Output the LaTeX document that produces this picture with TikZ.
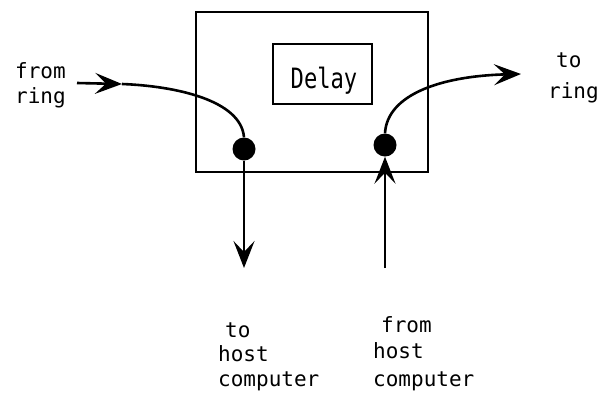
\documentclass[tikz,border=0pt]{standalone}
\usepackage{fontspec}
\setmainfont{DejaVu Sans Mono}
\usetikzlibrary{arrows.meta}
\begin{document}
\begin{tikzpicture}[x=1pt,y=-1pt,
  frame/.style={draw,line width=2.2pt},
  wire/.style={line width=2.6pt},
  arr/.style={wire,-{Stealth[length=27pt,width=21pt,inset=11pt]}},
  tap/.style={circle,fill,inner sep=0pt,minimum size=23pt},
  lbl/.style={font=\fontsize{21}{26}\selectfont,inner sep=0pt,anchor=base west}]
\useasboundingbox (0,0) rectangle (609,408);
% station box and delay element
\draw[frame] (196,12) rectangle (428,172);
\node[draw,line width=2pt,minimum width=99pt,minimum height=60pt,inner sep=0pt] (delay) at (322.5,74) {};
\node[inner sep=0pt,anchor=base,font=\fontsize{28}{30}\selectfont,xscale=0.79]
  (delaytxt) at (324,88) {Delay};
% tap points
\node[tap] (ltap) at (244,149) {};
\node[tap] (rtap) at (385,145) {};
% free ends of the wires
\coordinate (inA) at (77,83);
\coordinate (inB) at (122,84);
\coordinate (outA) at (521,74);
\coordinate (down) at (244,268);
\coordinate (up) at (385,268);
% ring in
\draw[arr] (inA) -- (inB);
\draw[wire] (inB) .. controls (175,86) and (241,100) .. (ltap.north);
% ring out
\draw[arr] (rtap.north) .. controls (387,95) and (440,76) .. (outA);
% to and from host
\draw[arr] (ltap.south) -- (down);
\draw[arr] (up) -- (rtap.south);
% labels
\node[lbl] (fr1) at (15,78) {from};
\node[lbl] (fr2) at (15,103) {ring};
\node[lbl] (tr1) at (556,67) {to};
\node[lbl] (tr2) at (548,98) {ring};
\node[lbl] (th1) at (225,337) {to};
\node[lbl] (th2) at (218,361) {host};
\node[lbl] (th3) at (218,386) {computer};
\node[lbl] (fh1) at (381,332) {from};
\node[lbl] (fh2) at (373,358) {host};
\node[lbl] (fh3) at (373,386) {computer};
\end{tikzpicture}
\end{document}
